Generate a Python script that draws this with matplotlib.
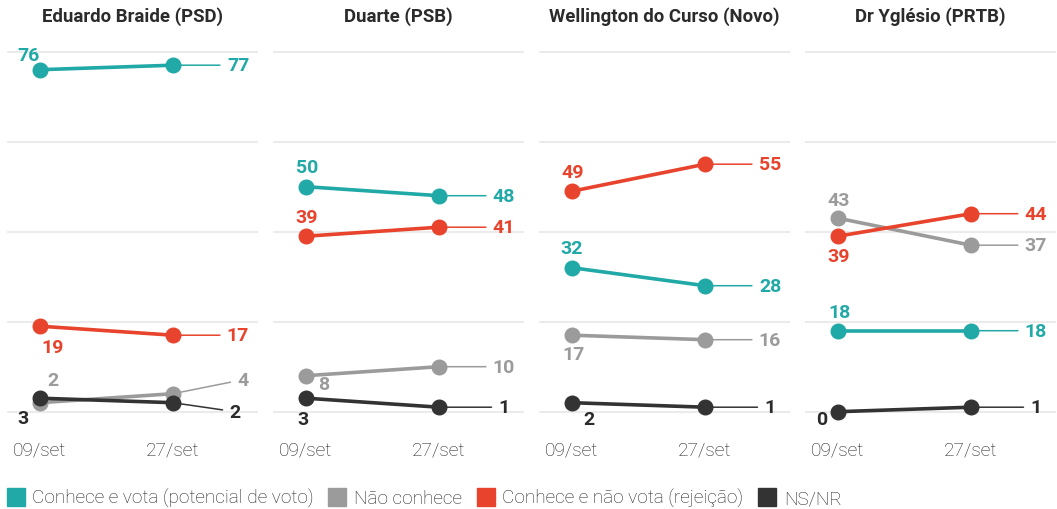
import matplotlib
matplotlib.use("Agg")
import matplotlib.pyplot as plt
from matplotlib.lines import Line2D

plt.rcParams["font.family"] = ["Roboto", "DejaVu Sans"]

# --- data -------------------------------------------------------------
candidates = ["Eduardo Braide (PSD)", "Duarte (PSB)", "Wellington do Curso (Novo)", "Dr Yglésio (PRTB)"]
dates = ["09/set", "27/set"]
vota = [[76, 77], [50, 48], [32, 28], [18, 18]]
nao_conhece = [[2, 4], [8, 10], [17, 16], [43, 37]]
rejeicao = [[19, 17], [39, 41], [49, 55], [39, 44]]
nsnr = [[3, 2], [3, 1], [2, 1], [0, 1]]
series_names = ["Conhece e vota (potencial de voto)", "Não conhece",
                "Conhece e não vota (rejeição)", "NS/NR"]

# --- styling ------------------------------------------------------------
COLORS = {"vota": "#20a9a6", "nc": "#9b9b9b", "rej": "#e8432c", "ns": "#333333"}
TEXT_COLORS = {"vota": "#20a9a6", "nc": "#9b9b9b", "rej": "#e8432c", "ns": "#2b2b2b"}
DRAW_ORDER = ["nc", "vota", "rej", "ns"]
values = {"vota": vota, "nc": nao_conhece, "rej": rejeicao, "ns": nsnr}

# label offsets in pixels (dx, dy up) for the first-date labels
start_off = [
    {"vota": (-12, 15), "rej": (13, -21), "nc": (13, 23), "ns": (-17, -20)},
    {"vota": (1, 20), "rej": (1, 19), "nc": (18, -8), "ns": (-3, -21)},
    {"vota": (0, 20), "rej": (1, 19), "nc": (2, -19), "ns": (17, -16)},
    {"vota": (1, 19), "rej": (1, -20), "nc": (1, 18), "ns": (-16, -7)},
]
# extra nudges for the end labels
end_nudge = [{"nc": (5, 14), "ns": (-3, -9)}, {}, {}, {}]

W, H = 1057, 510
PANEL_LEFT = [7, 273, 539, 805]
PANEL_W = 251
PX_PER_X = 133.0
Y_TOP_PX, Y_BOT_PX = 43.7, 426.2

fig = plt.figure(figsize=(W / 100, H / 100), dpi=100)

for i, name in enumerate(candidates):
    left = PANEL_LEFT[i]
    ax = fig.add_axes([left / W, (H - Y_BOT_PX) / H, PANEL_W / W, (Y_BOT_PX - Y_TOP_PX) / H])
    ax.set_xlim(-33 / PX_PER_X, (PANEL_W - 33) / PX_PER_X)
    ax.set_ylim(-3, 82)
    for s in ax.spines.values():
        s.set_visible(False)
    ax.set_yticks([0, 20, 40, 60, 80])
    ax.set_yticklabels([])
    ax.tick_params(axis="y", length=0)
    ax.grid(axis="y", color="#ebebeb", linewidth=1.5)
    ax.set_axisbelow(True)
    ax.set_xticks([0, 1])
    ax.set_xticklabels(dates, fontsize=13.8, fontweight="light", color="#1e1e1e")
    ax.tick_params(axis="x", length=0, pad=11)

    for key in DRAW_ORDER:
        v = values[key][i]
        c = COLORS[key]
        ax.plot([0, 1], v, color=c, linewidth=2.6, solid_capstyle="round", zorder=3, clip_on=False)
        ax.plot([0, 1], v, "o", color=c, markersize=10.5, zorder=4, clip_on=False)
        dx, dy = start_off[i][key]
        ax.annotate(str(v[0]), xy=(0, v[0]), xytext=(dx, dy), textcoords="offset pixels",
                    ha="center", va="center", fontsize=14, fontweight="bold",
                    color=TEXT_COLORS[key], zorder=5, annotation_clip=False)
        ndx, ndy = end_nudge[i].get(key, (0, 0))
        ax.annotate(str(v[1]), xy=(1, v[1]), xytext=(65 + ndx, ndy), textcoords="offset pixels",
                    ha="center", va="center", fontsize=14, fontweight="bold",
                    color=TEXT_COLORS[key], zorder=5, annotation_clip=False,
                    arrowprops=dict(arrowstyle="-", color=c, lw=1.1, shrinkA=3, shrinkB=0))

    fig.text((left + PANEL_W / 2) / W, 1 - 17 / H, name, ha="center", va="center",
             fontsize=13.4, fontweight="bold", color="#2b2b2b")

handles = [Line2D([], [], marker="s", linestyle="", markersize=12.5, color=COLORS[k])
           for k in ["vota", "nc", "rej", "ns"]]
fig.legend(handles, series_names, loc="center left", bbox_to_anchor=(6 / W, 1 - 499 / H), ncol=4,
           frameon=False, handlelength=1.0, handletextpad=0.37,
           columnspacing=0.75, borderaxespad=0.0, borderpad=0.0,
           prop={"family": ["Roboto", "DejaVu Sans"], "weight": "light", "size": 13.7},
           labelcolor="#222222")

fig.savefig("out.png", dpi=100)
